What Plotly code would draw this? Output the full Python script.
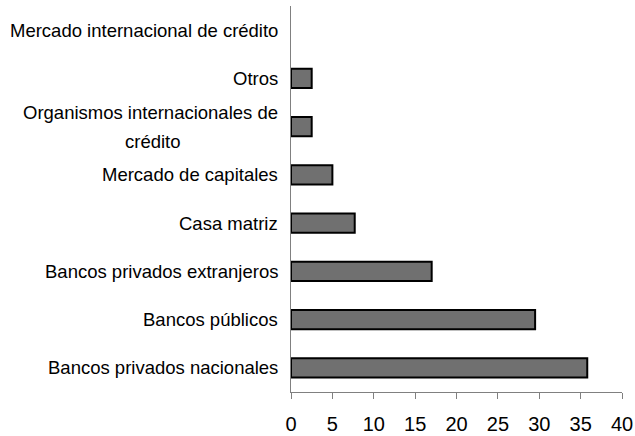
import plotly.graph_objects as go

categories = [
    "Mercado internacional de crédito",
    "Otros",
    "Organismos internacionales de<br>crédito",
    "Mercado de capitales",
    "Casa matriz",
    "Bancos privados extranjeros",
    "Bancos públicos",
    "Bancos privados nacionales",
]
values = [0, 2.5, 2.5, 5, 7.7, 17, 29.5, 35.8]
x_ticks = [0, 5, 10, 15, 20, 25, 30, 35, 40]

FONT = "Liberation Sans, Arial, sans-serif"
LINE_SPACING = 29

fig = go.Figure()
fig.add_trace(go.Bar(
    x=values, y=categories, orientation="h",
    width=0.4,
    marker=dict(color="#707070",
                line=dict(color="#000000", width=[0 if v == 0 else 2 for v in values])),
    showlegend=False, hoverinfo="x+y",
))

annotations = []
for c in categories:
    lines = c.split("<br>")
    n = len(lines)
    widest = max(lines, key=len)
    for i, ln in enumerate(lines):
        # centre each line under the widest one (multi-line labels are centred)
        annotations.append(dict(
            x=0, xref="paper", y=c, yref="y",
            text=ln if n == 1 else widest,
            xanchor="right", yanchor="middle", align="center",
            xshift=-11, yshift=((n - 1) / 2 - i) * LINE_SPACING,
            showarrow=False, opacity=1 if (n == 1 or ln == widest) else 0,
            font=dict(family=FONT, size=18.5, color="#000000"),
        ))
        if n > 1 and ln != widest:
            # overlay the shorter line centred within the widest line's box
            annotations[-1].update(dict(
                text=ln, opacity=1, xanchor="center",
                xshift=-11 - 0, width=None,
            ))

fig.update_layout(
    width=635, height=436,
    margin=dict(l=291, r=13, t=6, b=44, pad=0),
    paper_bgcolor="white", plot_bgcolor="white",
    xaxis=dict(
        range=[0, 40], tickvals=x_ticks, ticktext=[str(t) for t in x_ticks],
        showgrid=False, zeroline=False, automargin=False,
        showline=True, linecolor="#808080", linewidth=1,
        ticks="outside", ticklen=6, tickcolor="#808080", tickwidth=1,
        tickfont=dict(family=FONT, size=20, color="#000000"),
        ticklabelstandoff=8,
        fixedrange=True,
    ),
    yaxis=dict(
        categoryorder="array", categoryarray=categories,
        autorange="reversed", automargin=False,
        showticklabels=False, showgrid=False, zeroline=False,
        showline=True, linecolor="#808080", linewidth=1,
        ticks="", fixedrange=True,
    ),
)

# Position of the centred short line: centre of the widest line's box.
for a in annotations:
    if a.get("xanchor") == "center":
        a["x"] = 0
        a["xshift"] = -11 - 127  # half of the ~255px wide first line
fig.update_layout(annotations=annotations)

fig.write_html(
    "out.html",
    config={"displayModeBar": False},
    post_script="document.body.style.margin='0';document.body.style.overflow='hidden';",
)
